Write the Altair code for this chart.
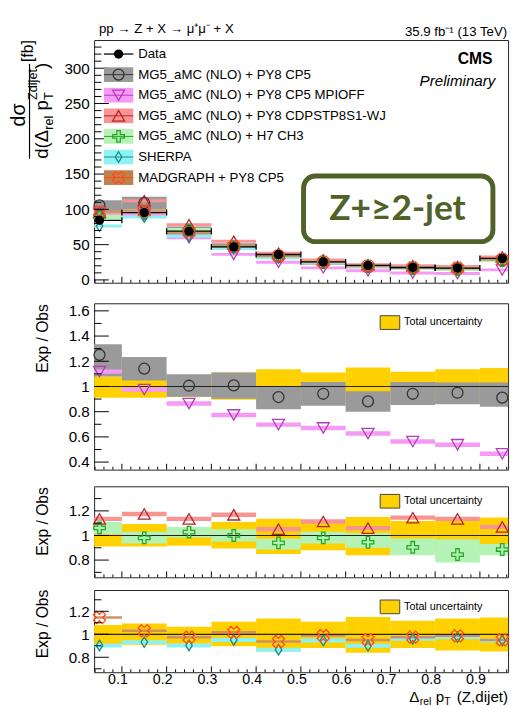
import math
import altair as alt
import pandas as pd

# ---------------- data ----------------
bin_lo = [0.0, 0.1, 0.2, 0.3, 0.4, 0.5, 0.6, 0.7, 0.8, 0.9]
bin_hi = [0.1, 0.2, 0.3, 0.4, 0.5, 0.6, 0.7, 0.8, 0.9, 1.0]
bin_center = [0.05, 0.15, 0.25, 0.35, 0.45, 0.55, 0.65, 0.75, 0.85, 0.95]

# top panel, d sigma / d(Delta_rel pT) [fb]
xs_data = [84.5, 95.5, 69.0, 46.8, 36.0, 25.5, 20.5, 17.6, 16.8, 30.5]
xs_cp5 = [105.6, 109.0, 69.4, 47.2, 33.0, 24.0, 18.1, 16.6, 16.0, 27.8]
xs_cp5_lo = [91.3, 100.1, 63.4, 42.3, 29.5, 21.6, 16.4, 15.0, 14.4, 25.6]
xs_cp5_hi = [112.8, 117.8, 75.7, 51.9, 35.9, 26.4, 19.7, 18.2, 17.3, 31.5]
xs_mpioff = [94.5, 93.1, 59.7, 36.2, 25.1, 17.1, 12.9, 9.9, 9.0, 14.2]
xs_cdp = [95.9, 112.2, 78.3, 54.7, 37.9, 28.4, 21.7, 20.2, 19.1, 32.6]
xs_h7 = [89.7, 93.6, 70.9, 46.8, 33.8, 25.0, 19.4, 15.9, 14.2, 27.0]
xs_h7_lo = [85.9, 89.3, 68.1, 44.5, 32.2, 23.9, 18.2, 14.7, 12.6, 25.6]
xs_h7_hi = [93.5, 97.9, 73.7, 49.1, 35.4, 26.1, 20.6, 17.1, 15.8, 28.4]
xs_sherpa = [76.3, 89.0, 62.3, 44.5, 31.2, 24.1, 18.5, 16.9, 16.4, 28.9]
xs_madgraph = [96.8, 98.4, 67.3, 47.6, 33.7, 25.2, 19.5, 17.2, 16.6, 29.0]

# ratio panels, Exp / Obs
r_tot_lo = [0.91, 0.91, 0.917, 0.895, 0.85, 0.88, 0.84, 0.88, 0.86, 0.85]
r_tot_hi = [1.08, 1.094, 1.066, 1.11, 1.137, 1.11, 1.15, 1.117, 1.137, 1.146]
r_cp5 = [1.251, 1.141, 1.006, 1.009, 0.916, 0.942, 0.882, 0.942, 0.95, 0.911]
r_cp5_lo = [1.08, 1.048, 0.919, 0.903, 0.82, 0.847, 0.80, 0.852, 0.859, 0.839]
r_cp5_hi = [1.335, 1.234, 1.097, 1.11, 0.996, 1.035, 0.963, 1.035, 1.032, 1.032]
r_mpioff = [1.118, 0.975, 0.865, 0.774, 0.697, 0.671, 0.627, 0.563, 0.538, 0.466]
r_cdp = [1.135, 1.175, 1.135, 1.168, 1.052, 1.114, 1.06, 1.145, 1.135, 1.07]
r_h7 = [1.062, 0.98, 1.027, 1.0, 0.94, 0.98, 0.945, 0.904, 0.845, 0.886]
r_h7_lo = [1.01, 0.935, 0.984, 0.952, 0.886, 0.935, 0.90, 0.84, 0.78, 0.84]
r_h7_hi = [1.11, 1.03, 1.068, 1.05, 0.974, 1.03, 1.02, 0.975, 0.97, 0.93]
r_sherpa = [0.903, 0.932, 0.903, 0.951, 0.866, 0.946, 0.9, 0.96, 0.975, 0.946]
r_madgraph = [1.146, 1.03, 0.975, 1.017, 0.937, 0.989, 0.951, 0.975, 0.986, 0.951]

# axis ticks / labels
x_major = [0.1, 0.2, 0.3, 0.4, 0.5, 0.6, 0.7, 0.8, 0.9]
x_minor = [0.04, 0.06, 0.08, 0.12, 0.14, 0.16, 0.18, 0.22, 0.24, 0.26, 0.28,
           0.32, 0.34, 0.36, 0.38, 0.42, 0.44, 0.46, 0.48, 0.52, 0.54, 0.56,
           0.58, 0.62, 0.64, 0.66, 0.68, 0.72, 0.74, 0.76, 0.78, 0.82, 0.84,
           0.86, 0.88, 0.92, 0.94, 0.96]
y1_major = [0, 50, 100, 150, 200, 250, 300]
y1_minor = [10, 20, 30, 40, 60, 70, 80, 90, 110, 120, 130, 140, 160, 170, 180,
            190, 210, 220, 230, 240, 260, 270, 280, 290, 310, 320, 330]
y2_major = [0.4, 0.6, 0.8, 1.0, 1.2, 1.4, 1.6]
y2_minor = [0.5, 0.7, 0.9, 1.1, 1.3, 1.5]
y3_major = [0.8, 1.0, 1.2]
y3_minor = [0.7, 0.9, 1.1, 1.3]

legend_labels = ["Data", "MG5_aMC (NLO) + PY8 CP5", "MG5_aMC (NLO) + PY8 CP5 MPIOFF",
                 "MG5_aMC (NLO) + PY8 CDPSTP8S1-WJ", "MG5_aMC (NLO) + H7 CH3",
                 "SHERPA", "MADGRAPH + PY8 CP5"]

# ---------------- styles ----------------
FONT = "Liberation Sans"
W = 423
H1, H2, H3, H4 = 248, 170, 93, 84
XDOM = [0.038, 0.963]

C_YELLOW = "#ffd100"
C_GRAY = "#9a9a9a"
C_MAG = "#f59af5"
C_RED = "#f79595"
C_GREEN = "#b5f2b5"
C_CYAN = "#8ff2f2"
C_ORANGE = "#cf9160"
C_BOX = "#4f6228"

M_CP5 = "#333333"
M_MPI = "#b83ab8"
M_CDP = "#b52525"
M_H7 = "#27a527"
M_SH = "#138a8a"
M_MG = "#ff4a1a"

CROSS = "M-0.3,-1L0.3,-1L0.3,-0.3L1,-0.3L1,0.3L0.3,0.3L0.3,1L-0.3,1L-0.3,0.3L-1,0.3L-1,-0.3L-0.3,-0.3Z"
_a = 0.36
_pts = [(-_a, -1), (_a, -1), (_a, -_a), (1, -_a), (1, _a), (_a, _a), (_a, 1), (-_a, 1),
        (-_a, _a), (-1, _a), (-1, -_a), (-_a, -_a)]
_s = 1 / math.sqrt(2)
XMARK = "M" + "L".join("%.3f,%.3f" % ((px - py) * _s, (px + py) * _s) for px, py in _pts) + "Z"
DIAMOND = "M0,-1L0.62,0L0,1L-0.62,0Z"

S_CIRC, S_TRI, S_CROSS, S_DIA, S_X, S_DOT = 125, 150, 140, 115, 165, 90

one = pd.DataFrame({"a": [0]})
xscale = alt.Scale(domain=XDOM, nice=False, zero=False)


def factory(ydom, y_axis, x_axis=None):
    yscale = alt.Scale(domain=ydom, nice=False, zero=False)

    def X(f):
        return alt.X(f, type="quantitative", scale=xscale, axis=x_axis)

    def Y(f):
        return alt.Y(f, type="quantitative", scale=yscale, axis=y_axis)
    return X, Y


def ptext(txt, x, y, size, align="left", baseline="middle", angle=None,
          weight="normal", style="normal", color="black", font=FONT):
    kw = dict(font=font, fontSize=size, align=align, baseline=baseline,
              color=color, fontWeight=weight, fontStyle=style)
    if angle is not None:
        kw["angle"] = angle
    return alt.Chart(one).mark_text(**kw).encode(
        x=alt.value(x), y=alt.value(y), text=alt.value(txt))


def prule(x1, x2, y1, y2, color="black", width=1.0):
    return alt.Chart(one).mark_rule(color=color, strokeWidth=width).encode(
        x=alt.value(x1), x2=alt.value(x2), y=alt.value(y1), y2=alt.value(y2))


def prect(x1, x2, y1, y2, fill, stroke=None, sw=1, opacity=1.0):
    kw = dict(color=fill, opacity=opacity)
    if stroke is not None:
        kw.update(stroke=stroke, strokeWidth=sw)
    return alt.Chart(one).mark_rect(**kw).encode(
        x=alt.value(x1), x2=alt.value(x2), y=alt.value(y1), y2=alt.value(y2))


def ppoint(x, y, shape, color, size, filled=False, sw=1.3):
    return alt.Chart(one).mark_point(shape=shape, color=color, size=size, filled=filled,
                                     strokeWidth=sw, opacity=1).encode(
        x=alt.value(x), y=alt.value(y))


def extent(top, bottom):
    # invisible box fixing the panel's outer bounds (left / top / bottom)
    return alt.Chart(one).mark_rect(opacity=0).encode(
        x=alt.value(-87.5), x2=alt.value(-86.5), y=alt.value(-top), y2=alt.value(bottom))


def ticks(X, Y, H, ymaj, ymin):
    out = []
    out.append(alt.Chart(pd.DataFrame({"v": ymaj})).mark_rule(color="black", strokeWidth=1)
               .encode(y=Y("v"), x=alt.value(0), x2=alt.value(15)))
    out.append(alt.Chart(pd.DataFrame({"v": ymin})).mark_rule(color="black", strokeWidth=1)
               .encode(y=Y("v"), x=alt.value(0), x2=alt.value(7.5)))
    out.append(alt.Chart(pd.DataFrame({"v": x_major})).mark_rule(color="black", strokeWidth=1)
               .encode(x=X("v"), y=alt.value(H), y2=alt.value(H - 6)))
    out.append(alt.Chart(pd.DataFrame({"v": x_minor})).mark_rule(color="black", strokeWidth=1)
               .encode(x=X("v"), y=alt.value(H), y2=alt.value(H - 3)))
    return out


def markers(df, X, Y, field, shape, color, size, sw=1.3):
    return alt.Chart(df).mark_point(shape=shape, color=color, size=size, filled=False,
                                    strokeWidth=sw, opacity=1).encode(x=X("c"), y=Y(field))


def band(df, X, Y, lo, hi, color):
    return alt.Chart(df).mark_rect(color=color, clip=True).encode(
        x=X("lo"), x2="hi", y=Y(lo), y2=hi)


def hline(df, X, Y, field, color, width):
    return alt.Chart(df).mark_rule(color=color, strokeWidth=width, clip=True).encode(
        x=X("lo"), x2="hi", y=Y(field))


def tot_legend(yc):
    return [prect(292.3, 312.3, yc - 7, yc + 7, C_YELLOW, stroke="#444444", sw=1),
            ptext("Total uncertainty", 316.7, yc, 11)]


lab_font = dict(labelFont=FONT, labelColor="black", ticks=False, domain=False,
                grid=False, title=None)
ratio_expr = "datum.value == 1 ? '1' : format(datum.value, '.1f')"

# ---------------- panel 1 ----------------
ax1 = alt.Axis(values=y1_major, format="d", labelFontSize=15.5, labelPadding=5, **lab_font)
X1, Y1 = factory([-4, 340], ax1)
df1 = pd.DataFrame({"lo": bin_lo, "hi": bin_hi, "c": bin_center, "data": xs_data,
                    "cp5": xs_cp5, "cp5_lo": xs_cp5_lo, "cp5_hi": xs_cp5_hi,
                    "mpi": xs_mpioff, "cdp": xs_cdp, "h7": xs_h7, "h7_lo": xs_h7_lo,
                    "h7_hi": xs_h7_hi, "sh": xs_sherpa, "mg": xs_madgraph})
L1 = [extent(23.7, H1 + 8),
      band(df1, X1, Y1, "cp5_lo", "cp5_hi", C_GRAY),
      band(df1, X1, Y1, "h7_lo", "h7_hi", C_GREEN),
      hline(df1, X1, Y1, "h7", C_GREEN, 2.5),
      hline(df1, X1, Y1, "mpi", C_MAG, 3),
      hline(df1, X1, Y1, "cdp", C_RED, 3),
      hline(df1, X1, Y1, "sh", C_CYAN, 3),
      hline(df1, X1, Y1, "mg", C_ORANGE, 2.5),
      hline(df1, X1, Y1, "data", "black", 1.3),
      alt.Chart(df1).mark_tick(orient="vertical", size=6, thickness=1.3, color="black",
                               clip=True, opacity=1).encode(x=X1("lo"), y=Y1("data")),
      alt.Chart(df1).mark_tick(orient="vertical", size=6, thickness=1.3, color="black",
                               clip=True, opacity=1).encode(x=X1("hi"), y=Y1("data")),
      markers(df1, X1, Y1, "cp5", "circle", M_CP5, S_CIRC),
      markers(df1, X1, Y1, "mpi", "triangle-down", M_MPI, S_TRI),
      markers(df1, X1, Y1, "cdp", "triangle-up", M_CDP, S_TRI),
      markers(df1, X1, Y1, "h7", CROSS, M_H7, S_CROSS),
      markers(df1, X1, Y1, "sh", DIAMOND, M_SH, S_DIA),
      markers(df1, X1, Y1, "mg", XMARK, M_MG, S_X),
      alt.Chart(df1).mark_point(shape="circle", filled=True, color="black", size=S_DOT,
                                opacity=1).encode(x=X1("c"), y=Y1("data")),
      ]
L1 += ticks(X1, Y1, H1, y1_major, y1_minor)

# legend
leg_y0, leg_dy = 14.3, 21.05
leg_styles = [(None, "black", "circle"), (C_GRAY, M_CP5, "circle"), (C_MAG, M_MPI, "triangle-down"),
              (C_RED, M_CDP, "triangle-up"), (C_GREEN, M_H7, CROSS), (C_CYAN, M_SH, DIAMOND),
              ("#c0804e", M_MG, XMARK)]
leg_sizes = [S_DOT, S_CIRC, S_TRI, S_TRI, S_CROSS, S_DIA, S_X]
for i, (lab, (bc, mc, shp)) in enumerate(zip(legend_labels, leg_styles)):
    yc = leg_y0 + i * leg_dy
    if bc is None:
        L1.append(prule(10, 40, yc, yc, "black", 1.3))
        L1.append(ppoint(25, yc, "circle", "black", leg_sizes[i], filled=True))
    else:
        L1.append(prect(10, 40, yc - 7.5, yc + 7.5, bc))
        L1.append(prule(10, 40, yc, yc, mc, 1))
        L1.append(ppoint(25, yc, shp, mc, leg_sizes[i]))
    L1.append(ptext(lab, 45, yc, 13.5))

# texts
L1 += [ptext("pp \u2192 Z + X \u2192 \u03bc\u207a\u03bc\u207b + X", 5, -11.5, 13.5),
       ptext("35.9 fb\u207b\u00b9 (13 TeV)", 422, -8.5, 13.5, align="right"),
       ptext("CMS", 407, 19, 16, align="right", weight="bold"),
       ptext("Preliminary", 410, 42.3, 15.5, align="right", style="italic"),
       alt.Chart(one).mark_rect(filled=False, stroke=C_BOX, strokeWidth=5, cornerRadius=12,
                                opacity=1).encode(x=alt.value(214), x2=alt.value(407.5),
                                                  y=alt.value(139), y2=alt.value(206)),
       ptext("Z+\u22652-jet", 310, 173, 36, align="center", weight="bold", color=C_BOX, font="Lato"),
       ]
# y title (fraction)
L1 += [ptext("d\u03c3", -76.5, 76.5, 20, align="center", angle=270),
       prule(-66, -66, 24.3, 121.3, "black", 1.2),
       ptext("d(\u0394", -53, 121.3, 19, angle=270),
       ptext("rel", -46, 91.7, 13, angle=270),
       ptext("p", -53, 72, 19, angle=270),
       ptext("T", -46, 61.4, 13, angle=270),
       ptext("Zdijet", -62, 61.4, 13, angle=270),
       ptext(")", -53, 29.6, 19, angle=270),
       ptext("[fb]", -67, 11.3, 16, align="center", angle=270),
       ]
p1 = alt.layer(*L1).properties(width=W, height=H1)

# ---------------- ratio panels ----------------
dfr = pd.DataFrame({"lo": bin_lo, "hi": bin_hi, "c": bin_center,
                    "tlo": r_tot_lo, "thi": r_tot_hi, "cp5": r_cp5, "cp5_lo": r_cp5_lo,
                    "cp5_hi": r_cp5_hi, "mpi": r_mpioff, "cdp": r_cdp, "h7": r_h7,
                    "h7_lo": r_h7_lo, "h7_hi": r_h7_hi, "sh": r_sherpa, "mg": r_madgraph})
one_line = pd.DataFrame({"v": [1.0]})


def unity(X, Y):
    return alt.Chart(one_line).mark_rule(color="#222222", strokeWidth=1.2).encode(
        y=Y("v"), x=alt.value(0), x2=alt.value(W))


ax2 = alt.Axis(values=y2_major, labelExpr=ratio_expr, labelFontSize=15.5, labelPadding=5, **lab_font)
X2_, Y2_ = factory([0.34, 1.66], ax2)
L2 = [extent(11, H2 + 4),
      band(dfr, X2_, Y2_, "tlo", "thi", C_YELLOW),
      band(dfr, X2_, Y2_, "cp5_lo", "cp5_hi", C_GRAY),
      hline(dfr, X2_, Y2_, "mpi", C_MAG, 4.5),
      unity(X2_, Y2_),
      markers(dfr, X2_, Y2_, "cp5", "circle", M_CP5, S_CIRC),
      markers(dfr, X2_, Y2_, "mpi", "triangle-down", M_MPI, S_TRI),
      ptext("Exp / Obs", -52, 36, 16, align="center", angle=270)]
L2 += tot_legend(19.7)
L2 += ticks(X2_, Y2_, H2, y2_major, y2_minor)
p2 = alt.layer(*L2).properties(width=W, height=H2)

ax3 = alt.Axis(values=y3_major, labelExpr=ratio_expr, labelFontSize=15.5, labelPadding=5, **lab_font)
X3_, Y3_ = factory([0.66, 1.40], ax3)
L3 = [extent(11, H3 + 4),
      band(dfr, X3_, Y3_, "tlo", "thi", C_YELLOW),
      band(dfr, X3_, Y3_, "h7_lo", "h7_hi", C_GREEN),
      hline(dfr, X3_, Y3_, "cdp", C_RED, 4.5),
      unity(X3_, Y3_),
      markers(dfr, X3_, Y3_, "cdp", "triangle-up", M_CDP, S_TRI),
      markers(dfr, X3_, Y3_, "h7", CROSS, M_H7, S_CROSS),
      ptext("Exp / Obs", -52, 36, 16, align="center", angle=270)]
L3 += tot_legend(15.3)
L3 += ticks(X3_, Y3_, H3, y3_major, y3_minor)
p3 = alt.layer(*L3).properties(width=W, height=H3)

ax4 = alt.Axis(values=y3_major, labelExpr=ratio_expr, labelFontSize=15.5, labelPadding=5, **lab_font)
xax4 = alt.Axis(values=x_major, format=".1f", labelFontSize=14.5, labelPadding=1,
                labelOffset=-4.5, **lab_font)
X4_, Y4_ = factory([0.67, 1.385], ax4, x_axis=xax4)
L4 = [extent(6.6, H4),
      band(dfr, X4_, Y4_, "tlo", "thi", C_YELLOW),
      hline(dfr, X4_, Y4_, "sh", C_CYAN, 4),
      hline(dfr, X4_, Y4_, "mg", C_ORANGE, 2.5),
      unity(X4_, Y4_),
      markers(dfr, X4_, Y4_, "sh", DIAMOND, M_SH, S_DIA),
      markers(dfr, X4_, Y4_, "mg", XMARK, M_MG, S_X),
      ptext("Exp / Obs", -52, 34.7, 16, align="center", angle=270)]
L4 += tot_legend(17.2)
L4 += ticks(X4_, Y4_, H4, y3_major, y3_minor)
# x title
xb = 114.6
L4 += [ptext("\u0394", 322, xb, 15.5, baseline="alphabetic"),
       ptext("rel", 332.8, xb + 2.5, 10.5, baseline="alphabetic"),
       ptext("p", 349, xb, 15.5, baseline="alphabetic"),
       ptext("T", 357.8, xb + 2.5, 10.5, baseline="alphabetic"),
       ptext("(Z,dijet)", 423, xb, 15.5, align="right", baseline="alphabetic")]
p4 = alt.layer(*L4).properties(width=W, height=H4)

chart = alt.vconcat(p1, p2, p3, p4, spacing=0).properties(
    padding={"left": 0, "top": 0, "right": 0, "bottom": 0}
).configure_view(stroke="#222222", strokeWidth=1)

chart.save("out.html", embed_options={"renderer": "svg", "actions": False})
